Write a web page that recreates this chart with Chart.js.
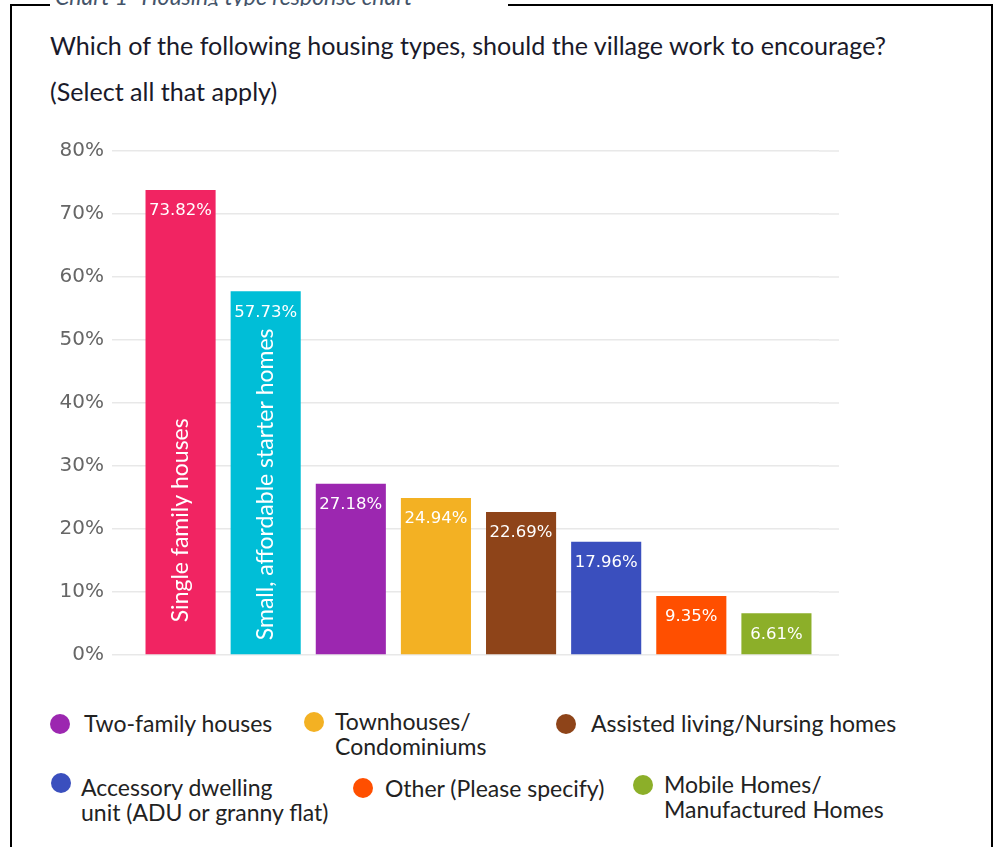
<!DOCTYPE html>
<html>
<head>
<meta charset="utf-8">
<script src="https://cdn.jsdelivr.net/npm/chart.js@4.4.1/dist/chart.umd.min.js"></script>
<style>
  body { margin: 0; width: 999px; height: 847px; overflow: hidden; background: #fff; position: relative; font-family: Lato, sans-serif; }
  #frame { position: absolute; left: 10px; top: 4px; width: 979px; height: 900px; border: 2.5px solid #000; border-bottom: none; }
  #caption { position: absolute; left: 50px; top: -16px; width: 453px; height: 22px; background: #fff; color: #44546a;
             font-style: italic; font-size: 23px; line-height: 24px; padding-left: 5px; white-space: nowrap; overflow: hidden; }
  #title { position: absolute; left: 50px; top: 22px; font-size: 25.1px; line-height: 46px; color: #1a1a2a; }
  #wrap { position: absolute; left: 0; top: 131px; width: 860px; height: 544px; }
  .leg { position: absolute; font-size: 23px; line-height: 25px; color: #222; white-space: pre; }
  .dot { position: absolute; width: 20px; height: 20px; border-radius: 50%; }
</style>
</head>
<body>
<div id="frame"></div>
<div id="caption">Chart 1 -Housing type response chart</div>
<div id="title">Which of the following housing types, should the village work to encourage?<br>(Select all that apply)</div>
<div id="wrap"><canvas id="barChart"></canvas></div>
<div id="legend"></div>
<script>
const categories = [
  "Single family houses",
  "Small, affordable starter homes",
  "Two-family houses",
  "Townhouses/ Condominiums",
  "Assisted living/Nursing homes",
  "Accessory dwelling unit (ADU or granny flat)",
  "Other (Please specify)",
  "Mobile Homes/ Manufactured Homes"
];
const percents = [73.82, 57.73, 27.18, 24.94, 22.69, 17.96, 9.35, 6.61];
const tickValues = [0, 10, 20, 30, 40, 50, 60, 70, 80];
const barColors = ["#f12462", "#00bed7", "#9c27b0", "#f3b123", "#8e4419", "#3a4fbe", "#ff4f00", "#8caf29"];

// the first two bars carry their name inside (gap above the base, px), the rest go in the legend
const insideNames = [0, 1];
const insideGap = [32, 14];
const legendText = [
  null, null,
  "Two-family houses",
  "Townhouses/\nCondominiums",
  "Assisted living/Nursing homes",
  "Accessory dwelling\nunit (ADU or granny flat)",
  "Other (Please specify)",
  "Mobile Homes/\nManufactured Homes"
];
// text left / first line centre, and dot centre, for each legend entry
const legendSpots = [
  null, null,
  { x: 84, y: 724, dx: 60, dy: 724 },
  { x: 335, y: 722, dx: 314, dy: 722 },
  { x: 591, y: 724, dx: 566, dy: 724 },
  { x: 81, y: 788, dx: 61, dy: 783 },
  { x: 385, y: 789, dx: 363, dy: 788 },
  { x: 664, y: 785, dx: 643, dy: 785 }
];

const legendBox = document.getElementById("legend");
legendText.forEach((txt, i) => {
  if (!txt) return;
  const s = legendSpots[i];
  const dot = document.createElement("div");
  dot.className = "dot";
  dot.style.background = barColors[i];
  dot.style.left = (s.dx - 10) + "px";
  dot.style.top = (s.dy - 10) + "px";
  legendBox.appendChild(dot);
  const t = document.createElement("div");
  t.className = "leg";
  t.textContent = txt;
  t.style.left = s.x + "px";
  t.style.top = (s.y - 13) + "px";
  legendBox.appendChild(t);
});

const barLabels = {
  id: "barLabels",
  afterDatasetsDraw(chart) {
    const ctx = chart.ctx;
    const bars = chart.getDatasetMeta(0).data;
    ctx.save();
    ctx.fillStyle = "#fff";
    ctx.textAlign = "center";
    ctx.textBaseline = "middle";
    ctx.font = "16.5px 'DejaVu Sans'";
    bars.forEach((bar, i) => {
      ctx.fillText(percents[i].toFixed(2) + "%", bar.x, bar.y + 21);
    });
    ctx.font = "23px Lato";
    ctx.textAlign = "left";
    insideNames.forEach((i, k) => {
      const bar = bars[i];
      ctx.save();
      ctx.translate(bar.x, bar.base - insideGap[k]);
      ctx.rotate(-Math.PI / 2);
      ctx.fillText(categories[i], 0, 0);
      ctx.restore();
    });
    ctx.restore();
  }
};

// gridlines run a little past the last bar on the right
const gridTail = {
  id: "gridTail",
  beforeDatasetsDraw(chart) {
    const ctx = chart.ctx;
    const y = chart.scales.y;
    const a = chart.chartArea;
    ctx.save();
    ctx.strokeStyle = "#e8e8e8";
    ctx.lineWidth = 1.5;
    tickValues.forEach((v) => {
      const py = y.getPixelForValue(v);
      ctx.beginPath();
      ctx.moveTo(a.right, py);
      ctx.lineTo(a.right + 20, py);
      ctx.stroke();
    });
    ctx.restore();
  }
};

new Chart(document.getElementById("barChart"), {
  type: "bar",
  data: {
    labels: categories,
    datasets: [{
      data: percents,
      backgroundColor: barColors,
      barPercentage: 0.9,
      categoryPercentage: 0.915
    }]
  },
  options: {
    responsive: true,
    maintainAspectRatio: false,
    animation: false,
    layout: { padding: { top: 3, right: 41, bottom: 0, left: 0 } },
    plugins: { legend: { display: false }, tooltip: { enabled: false } },
    scales: {
      x: { display: false },
      y: {
        min: 0,
        max: 80,
        afterBuildTicks(scale) { scale.ticks = tickValues.map((v) => ({ value: v })); },
        afterFit(scale) { scale.width = 138; },
        border: { display: false },
        grid: { color: "#e8e8e8", lineWidth: 1.5, tickLength: 26, tickColor: "#e8e8e8" },
        ticks: {
          padding: 8,
          color: "#666",
          font: { family: "'DejaVu Sans'", size: 20 },
          callback: (v) => v + "%"
        }
      }
    }
  },
  plugins: [barLabels, gridTail]
});
</script>
</body>
</html>
